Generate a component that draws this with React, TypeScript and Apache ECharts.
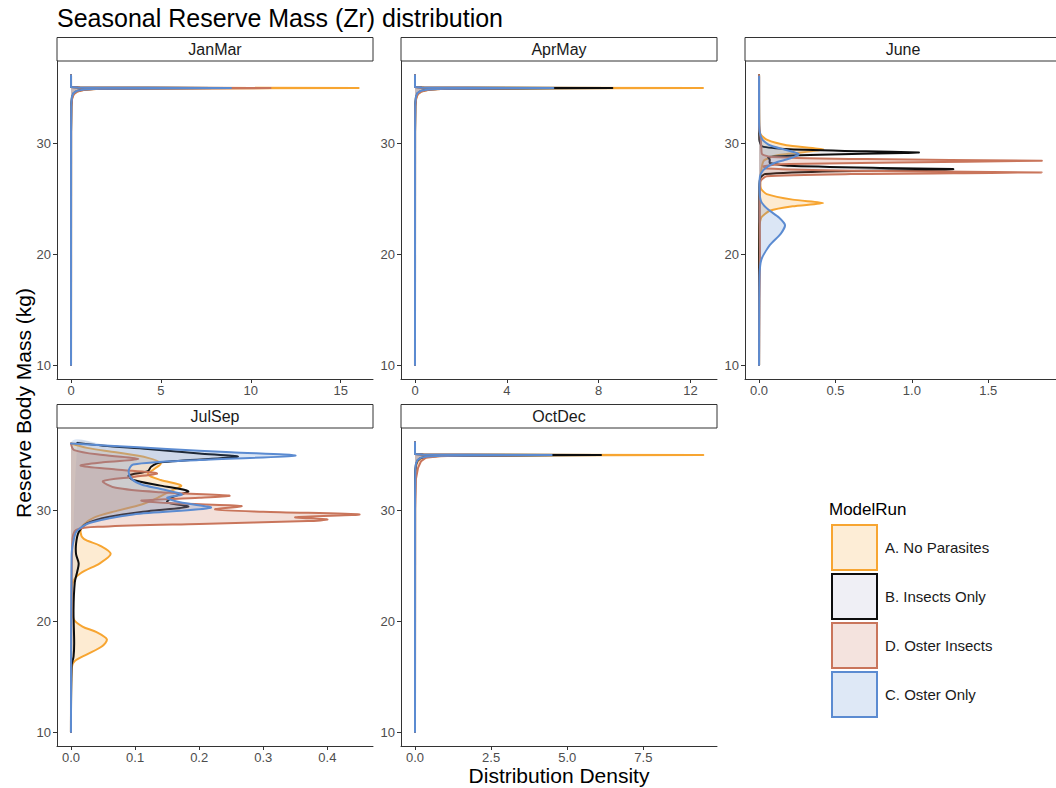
import React, { useEffect, useRef } from 'react';
import * as echarts from 'echarts';

const PANELS = ['JanMar', 'AprMay', 'June', 'JulSep', 'OctDec'];
const MODELS = ['A. No Parasites', 'B. Insects Only', 'D. Oster Insects', 'C. Oster Only'];
const LINE_COLORS = ['#F7A531', '#0D0D0D', '#C9755B', '#5B8BD1'];
const FILL_COLORS = ['rgba(247,165,49,0.22)', 'rgba(185,180,190,0.23)', 'rgba(201,117,91,0.23)', 'rgba(91,139,209,0.22)'];
const LEGEND_FILLS = ['#FDEDD6', '#EFEFF5', '#F4E3DE', '#DEE8F6'];

const X_MIN = [-0.78, -0.61, -0.092, -0.0218, -0.46];
const X_MAX = [16.8, 13.16, 1.943, 0.4712, 9.92];
const X_TICKS = [[0, 5, 10, 15], [0, 4, 8, 12], [0, 0.5, 1, 1.5], [0, 0.1, 0.2, 0.3, 0.4], [0, 2.5, 5, 7.5]];
const X_DEC = [0, 0, 1, 1, 1];
const Y_TICKS = [10, 20, 30];
const Y_MIN = 8.74;
const Y_MAX = 37.39;

// curves: [mass, density]
const JM_A = [[10, 0], [31, 0.004], [33.3, 0.02], [34.0, 0.06], [34.4, 0.15], [34.65, 0.35], [34.8, 0.75], [34.89, 1.6], [34.95, 16.0], [35.0, 0.5], [35.05, 0], [36.1, 0]];
const JM_B = [[10, 0], [31, 0.003], [33.5, 0.015], [34.1, 0.05], [34.45, 0.13], [34.68, 0.32], [34.82, 0.7], [34.9, 1.5], [34.95, 8.0], [35.0, 0.4], [35.05, 0], [36.1, 0]];
const JM_D = [[10, 0], [31, 0.004], [33.3, 0.02], [34.0, 0.06], [34.4, 0.15], [34.65, 0.35], [34.8, 0.75], [34.89, 1.6], [34.95, 11.1], [35.0, 0.5], [35.05, 0], [36.1, 0]];
const JM_C = [[10, 0], [31, 0.002], [33.6, 0.015], [34.15, 0.05], [34.5, 0.13], [34.7, 0.32], [34.83, 0.7], [34.9, 1.5], [34.95, 8.9], [35.0, 0.4], [35.05, 0], [36.1, 0]];

const AM_A = [[10, 0], [31, 0.003], [33.3, 0.015], [34.0, 0.05], [34.4, 0.12], [34.65, 0.28], [34.8, 0.6], [34.89, 1.3], [34.95, 12.55], [35.0, 0.4], [35.05, 0], [36.1, 0]];
const AM_B = [[10, 0], [31, 0.002], [33.5, 0.012], [34.1, 0.04], [34.45, 0.1], [34.68, 0.25], [34.82, 0.55], [34.9, 1.2], [34.95, 8.6], [35.0, 0.3], [35.05, 0], [36.1, 0]];
const AM_D = [[10, 0], [31, 0.003], [33.3, 0.015], [34.0, 0.05], [34.4, 0.12], [34.65, 0.28], [34.8, 0.6], [34.89, 1.3], [34.95, 4.8], [35.0, 0.3], [35.05, 0], [36.1, 0]];
const AM_C = [[10, 0], [31, 0.002], [33.6, 0.012], [34.15, 0.04], [34.5, 0.1], [34.7, 0.25], [34.83, 0.55], [34.9, 1.2], [34.95, 6.03], [35.0, 0.3], [35.05, 0], [36.1, 0]];

const JN_A = [[10, 0], [22.5, 0.002], [23.3, 0.015], [23.9, 0.07], [24.3, 0.22], [24.6, 0.42], [24.9, 0.22], [25.4, 0.05], [25.9, 0.012], [27, 0.01], [28.4, 0.03], [28.9, 0.12], [29.4, 0.42], [29.8, 0.18], [30.3, 0.05], [30.8, 0.01], [31.5, 0.001], [36.1, 0]];
const JN_B = [[10, 0], [26, 0.002], [26.9, 0.01], [27.2, 0.04], [27.45, 0.5], [27.6, 1.2], [27.65, 1.27], [27.75, 0.8], [27.95, 0.2], [28.2, 0.07], [28.5, 0.07], [28.75, 0.06], [28.95, 0.4], [29.1, 0.95], [29.15, 1.045], [29.25, 0.7], [29.45, 0.2], [29.7, 0.02], [30.3, 0.002], [36.1, 0]];
const JN_D = [[10, 0], [16, 0.002], [20, 0.006], [26.5, 0.008], [27.0, 0.05], [27.2, 0.6], [27.35, 1.85], [27.5, 0.6], [27.7, 0.05], [27.9, 0.03], [28.1, 0.2], [28.25, 0.9], [28.4, 1.85], [28.55, 0.7], [28.75, 0.08], [29.0, 0.02], [29.6, 0.015], [30.5, 0.01], [31.2, 0.002], [32, 0], [36.1, 0]];
const JN_C = [[10, 0], [18, 0.003], [19.5, 0.015], [20.8, 0.07], [21.8, 0.14], [22.6, 0.17], [23.3, 0.13], [24.0, 0.06], [24.7, 0.015], [25.5, 0.004], [27.0, 0.006], [27.6, 0.03], [28.2, 0.1], [28.6, 0.2], [29.0, 0.26], [29.4, 0.17], [29.8, 0.07], [30.3, 0.022], [31.0, 0.004], [32, 0], [36.0, 0]];

const JS_A = [[10, 0], [15.8, 0.001], [16.4, 0.006], [17.0, 0.025], [17.7, 0.048], [18.35, 0.056], [19.0, 0.04], [19.5, 0.018], [20.2, 0.004], [21.5, 0.002], [23.5, 0.003], [24.3, 0.015], [25.2, 0.045], [26.05, 0.062], [26.8, 0.045], [27.4, 0.02], [28.0, 0.015], [28.6, 0.018], [29.3, 0.035], [29.9, 0.07], [30.5, 0.11], [31.1, 0.135], [31.7, 0.155], [32.2, 0.172], [32.7, 0.14], [33.2, 0.12], [33.7, 0.13], [34.2, 0.14], [34.7, 0.12], [35.2, 0.07], [35.6, 0.025], [36.0, 0]];
const JS_B = [[10, 0], [16.0, 0.001], [16.8, 0.004], [18, 0.005], [21, 0.004], [23.5, 0.006], [24.5, 0.01], [25.2, 0.012], [26.0, 0.008], [27.0, 0.008], [28.0, 0.012], [28.8, 0.025], [29.4, 0.06], [29.9, 0.12], [30.3, 0.183], [30.7, 0.15], [31.2, 0.16], [31.7, 0.183], [32.2, 0.14], [32.7, 0.097], [33.1, 0.09], [33.5, 0.12], [33.9, 0.125], [34.3, 0.14], [34.8, 0.26], [35.1, 0.2], [35.5, 0.12], [35.8, 0.05], [36.05, 0.01]];
const JS_D = [[10, 0], [27.0, 0.002], [28.2, 0.008], [28.5, 0.05], [28.75, 0.2], [29.0, 0.37], [29.15, 0.4], [29.35, 0.35], [29.6, 0.45], [29.85, 0.3], [30.06, 0.225], [30.36, 0.266], [30.6, 0.16], [30.85, 0.11], [31.1, 0.2], [31.3, 0.247], [31.6, 0.14], [32.0, 0.07], [32.6, 0.05], [33.0, 0.1], [33.3, 0.134], [33.65, 0.07], [34.0, 0.015], [34.3, 0.05], [34.6, 0.105], [34.95, 0.05], [35.4, 0.005], [36.0, 0]];
const JS_C = [[10, 0], [26, 0.001], [27.5, 0.005], [28.1, 0.009], [28.85, 0.03], [29.6, 0.097], [30.2, 0.218], [30.7, 0.17], [31.1, 0.15], [31.4, 0.173], [31.9, 0.14], [32.3, 0.11], [32.8, 0.095], [33.5, 0.09], [34.1, 0.097], [34.5, 0.2], [34.9, 0.35], [35.2, 0.25], [35.5, 0.15], [35.8, 0.06], [36.0, 0]];

const OD_A = [[10, 0], [31, 0.002], [33.3, 0.01], [34.0, 0.035], [34.4, 0.09], [34.65, 0.2], [34.8, 0.45], [34.89, 1.0], [34.95, 9.47], [35.0, 0.3], [35.05, 0], [36.1, 0]];
const OD_B = [[10, 0], [31, 0.002], [33.5, 0.008], [34.1, 0.03], [34.45, 0.08], [34.68, 0.18], [34.82, 0.4], [34.9, 0.9], [34.95, 6.11], [35.0, 0.25], [35.05, 0], [36.1, 0]];
const OD_D = [[10, 0], [30, 0.005], [32.8, 0.03], [33.8, 0.1], [34.4, 0.2], [34.7, 0.35], [34.85, 0.8], [34.92, 1.6], [34.95, 3.8], [35.0, 0.25], [35.05, 0], [36.1, 0]];
const OD_C = [[10, 0], [31, 0.001], [33.6, 0.008], [34.15, 0.03], [34.5, 0.08], [34.7, 0.18], [34.83, 0.4], [34.9, 0.9], [34.95, 4.49], [35.0, 0.25], [35.05, 0], [36.1, 0]];

const CURVES = [
  [JM_A, JM_B, JM_D, JM_C],
  [AM_A, AM_B, AM_D, AM_C],
  [JN_A, JN_B, JN_D, JN_C],
  [JS_A, JS_B, JS_D, JS_C],
  [OD_A, OD_B, OD_D, OD_C],
];
const SMOOTH = [0, 0, 0.2, 0.3, 0];

const GRID_POS = [
  { left: 57, top: 61 },
  { left: 401, top: 61 },
  { left: 745, top: 61 },
  { left: 57, top: 428 },
  { left: 401, top: 428 },
];
const GW = 316;
const GH = 318;
const STRIP_H = 23.5;
const FONT = 'Liberation Sans, Arial, Helvetica, sans-serif';

export default function App() {
  const ref = useRef<HTMLDivElement>(null);
  useEffect(() => {
    if (!ref.current) return;
    const chart = echarts.init(ref.current, undefined, { renderer: 'svg' });

    const grids = GRID_POS.map((g) => ({ left: g.left, top: g.top, width: GW, height: GH, containLabel: false }));
    const xAxes = PANELS.map((_, i) => ({
      type: 'value',
      gridIndex: i,
      min: X_MIN[i],
      max: X_MAX[i],
      axisLine: { show: true, onZero: false, lineStyle: { color: '#333', width: 1 } },
      axisTick: { show: true, length: 4, customValues: X_TICKS[i], lineStyle: { color: '#333', width: 1 } },
      axisLabel: {
        customValues: X_TICKS[i],
        formatter: (v: number) => v.toFixed(X_DEC[i]),
        color: '#4D4D4D',
        fontSize: 13,
        fontFamily: FONT,
        margin: 5,
      },
      splitLine: { show: false },
    }));
    const yAxes = PANELS.map((_, i) => ({
      type: 'value',
      gridIndex: i,
      min: Y_MIN,
      max: Y_MAX,
      axisLine: { show: true, onZero: false, lineStyle: { color: '#333', width: 1 } },
      axisTick: { show: true, length: 4, customValues: Y_TICKS, lineStyle: { color: '#333', width: 1 } },
      axisLabel: { customValues: Y_TICKS, color: '#4D4D4D', fontSize: 13, fontFamily: FONT, margin: 6 },
      splitLine: { show: false },
    }));

    const series: any[] = [];
    CURVES.forEach((panel, p) => {
      panel.forEach((pts, m) => {
        series.push({
          type: 'custom',
          name: MODELS[m],
          xAxisIndex: p,
          yAxisIndex: p,
          coordinateSystem: 'cartesian2d',
          itemStyle: { color: LINE_COLORS[m] },
          data: pts.map(([mass, dens]) => [dens, mass]),
          silent: true,
          renderItem: (params: any, api: any) => {
            if (params.dataIndexInside !== 0) return null;
            const n = params.dataInsideLength || pts.length;
            const coords: number[][] = [];
            for (let k = 0; k < n; k++) {
              coords.push(api.coord([api.value(0, k), api.value(1, k)]));
            }
            const zeroTop = api.coord([0, Y_MAX]);
            const far = api.coord([X_MAX[p], Y_MIN]);
            const constraint = [[zeroTop[0], zeroTop[1]], [far[0], far[1]]];
            return {
              type: 'group',
              children: [
                {
                  type: 'polygon',
                  shape: { points: coords, smooth: SMOOTH[p], smoothConstraint: constraint },
                  style: { fill: FILL_COLORS[m], stroke: 'none' },
                },
                {
                  type: 'polyline',
                  shape: { points: coords, smooth: SMOOTH[p], smoothConstraint: constraint },
                  style: { stroke: LINE_COLORS[m], lineWidth: 2, fill: 'none', lineJoin: 'round', lineCap: 'round' },
                },
              ],
            };
          },
        });
      });
    });

    const graphics: any[] = [];
    GRID_POS.forEach((g, i) => {
      graphics.push({
        type: 'rect',
        shape: { x: g.left, y: g.top - STRIP_H, width: GW, height: STRIP_H },
        style: { fill: '#fff', stroke: '#333', lineWidth: 1 },
        silent: true,
      });
      graphics.push({
        type: 'text',
        x: g.left + GW / 2,
        y: g.top - STRIP_H / 2,
        style: { text: PANELS[i], fill: '#1A1A1A', font: `16px ${FONT}`, align: 'center', verticalAlign: 'middle' },
        silent: true,
      });
    });
    graphics.push({
      type: 'text',
      x: 57,
      y: 18,
      style: { text: 'Seasonal Reserve Mass (Zr) distribution', fill: '#000', font: `25px ${FONT}`, align: 'left', verticalAlign: 'middle' },
      silent: true,
    });
    graphics.push({
      type: 'text',
      x: 23,
      y: 403,
      rotation: Math.PI / 2,
      style: { text: 'Reserve Body Mass (kg)', fill: '#000', font: `21px ${FONT}`, align: 'center', verticalAlign: 'middle' },
      silent: true,
    });
    graphics.push({
      type: 'text',
      x: 559,
      y: 775,
      style: { text: 'Distribution Density', fill: '#000', font: `21px ${FONT}`, align: 'center', verticalAlign: 'middle' },
      silent: true,
    });
    graphics.push({
      type: 'text',
      x: 829,
      y: 509,
      style: { text: 'ModelRun', fill: '#000', font: `17px ${FONT}`, align: 'left', verticalAlign: 'middle' },
      silent: true,
    });

    chart.setOption({
      animation: false,
      textStyle: { fontFamily: FONT },
      grid: grids,
      xAxis: xAxes,
      yAxis: yAxes,
      legend: {
        orient: 'vertical',
        left: 831,
        top: 524,
        padding: 0,
        itemWidth: 45,
        itemHeight: 45,
        itemGap: 2,
        icon: 'rect',
        selectedMode: false,
        textStyle: { fontSize: 15, color: '#1A1A1A', fontFamily: FONT, padding: [0, 0, 0, 3] },
        data: MODELS.map((name, i) => ({
          name,
          itemStyle: { color: LEGEND_FILLS[i], borderColor: LINE_COLORS[i], borderWidth: 2 },
        })),
      },
      graphic: graphics,
      series,
    });

    return () => chart.dispose();
  }, []);

  return <div ref={ref} style={{ position: 'absolute', left: 0, top: 0, width: 1056, height: 788, background: '#fff' }} />;
}
